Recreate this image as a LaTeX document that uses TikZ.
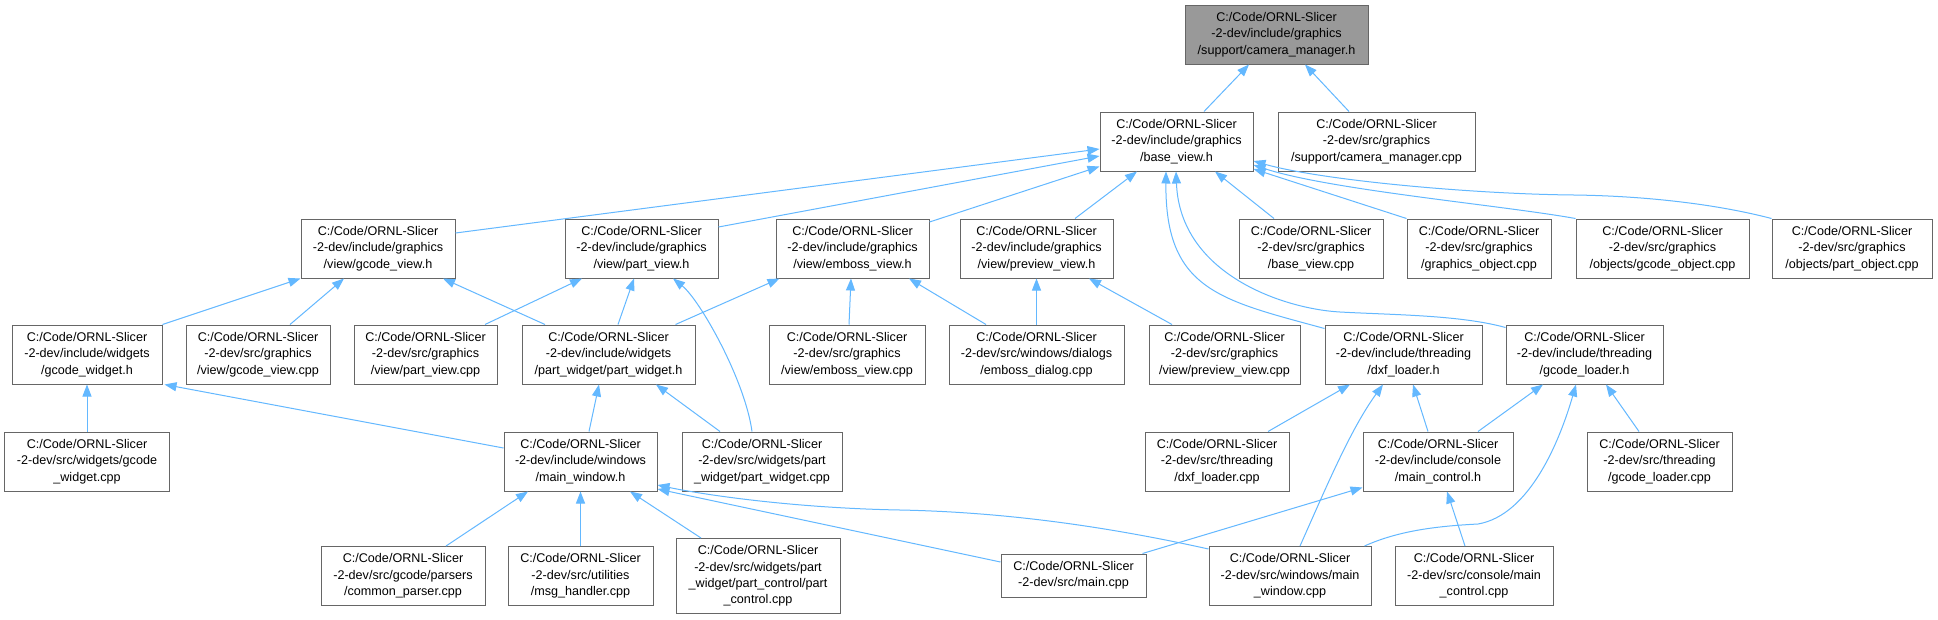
\documentclass[tikz,border=0pt]{standalone}
\usepackage{fontspec}
\setmainfont{Liberation Sans}
\usetikzlibrary{arrows.meta}
\definecolor{edgec}{HTML}{63B8FF}
\definecolor{boxc}{HTML}{666666}
\definecolor{rootfill}{HTML}{999999}
\tikzset{
  fbox/.style={draw=boxc, fill=white, line width=1pt, inner sep=0pt, align=center,
    font=\fontsize{12.6}{16.3}\selectfont, minimum height=59pt},
  rootbox/.style={fbox, fill=rootfill},
  dep/.style={draw=edgec, line width=1pt, -{Triangle[length=12pt,width=9pt]}},
}
\begin{document}
\begin{tikzpicture}[x=1pt,y=-1pt]
\useasboundingbox (0,0) rectangle (1938,619);
\fill[white] (0,0) rectangle (1938,619);
% row 0 / 1
\node[rootbox, minimum width=183pt] (root) at (1276.5,34.5) {C:/Code/ORNL-Slicer\\-2-dev/include/graphics\\/support/camera\_manager.h};
\node[fbox, minimum width=153pt] (bv) at (1176.5,141.5) {C:/Code/ORNL-Slicer\\-2-dev/include/graphics\\/base\_view.h};
\node[fbox, minimum width=197pt] (cmcpp) at (1376.5,141.5) {C:/Code/ORNL-Slicer\\-2-dev/src/graphics\\/support/camera\_manager.cpp};
% row 2
\node[fbox, minimum width=154pt] (gv) at (378,248.5) {C:/Code/ORNL-Slicer\\-2-dev/include/graphics\\/view/gcode\_view.h};
\node[fbox, minimum width=153pt] (pv) at (641.5,248.5) {C:/Code/ORNL-Slicer\\-2-dev/include/graphics\\/view/part\_view.h};
\node[fbox, minimum width=153pt] (ev) at (852.5,248.5) {C:/Code/ORNL-Slicer\\-2-dev/include/graphics\\/view/emboss\_view.h};
\node[fbox, minimum width=153pt] (prv) at (1036.5,248.5) {C:/Code/ORNL-Slicer\\-2-dev/include/graphics\\/view/preview\_view.h};
\node[fbox, minimum width=144pt] (bvcpp) at (1311,248.5) {C:/Code/ORNL-Slicer\\-2-dev/src/graphics\\/base\_view.cpp};
\node[fbox, minimum width=144pt] (gocpp) at (1479,248.5) {C:/Code/ORNL-Slicer\\-2-dev/src/graphics\\/graphics\_object.cpp};
\node[fbox, minimum width=173pt] (gcocpp) at (1662.5,248.5) {C:/Code/ORNL-Slicer\\-2-dev/src/graphics\\/objects/gcode\_object.cpp};
\node[fbox, minimum width=160pt] (pocpp) at (1852,248.5) {C:/Code/ORNL-Slicer\\-2-dev/src/graphics\\/objects/part\_object.cpp};
% row 3
\node[fbox, minimum width=150pt] (gw) at (87,354.5) {C:/Code/ORNL-Slicer\\-2-dev/include/widgets\\/gcode\_widget.h};
\node[fbox, minimum width=144pt] (gvcpp) at (258,354.5) {C:/Code/ORNL-Slicer\\-2-dev/src/graphics\\/view/gcode\_view.cpp};
\node[fbox, minimum width=143pt] (pvcpp) at (425.5,354.5) {C:/Code/ORNL-Slicer\\-2-dev/src/graphics\\/view/part\_view.cpp};
\node[fbox, minimum width=173pt] (pw) at (608.5,354.5) {C:/Code/ORNL-Slicer\\-2-dev/include/widgets\\/part\_widget/part\_widget.h};
\node[fbox, minimum width=156pt] (evcpp) at (847,354.5) {C:/Code/ORNL-Slicer\\-2-dev/src/graphics\\/view/emboss\_view.cpp};
\node[fbox, minimum width=175pt] (edcpp) at (1036.5,354.5) {C:/Code/ORNL-Slicer\\-2-dev/src/windows/dialogs\\/emboss\_dialog.cpp};
\node[fbox, minimum width=151pt] (prvcpp) at (1224.5,354.5) {C:/Code/ORNL-Slicer\\-2-dev/src/graphics\\/view/preview\_view.cpp};
\node[fbox, minimum width=157pt] (dxh) at (1403.5,354.5) {C:/Code/ORNL-Slicer\\-2-dev/include/threading\\/dxf\_loader.h};
\node[fbox, minimum width=157pt] (glh) at (1584.5,354.5) {C:/Code/ORNL-Slicer\\-2-dev/include/threading\\/gcode\_loader.h};
% row 4
\node[fbox, minimum width=165pt] (gwcpp) at (87,461.5) {C:/Code/ORNL-Slicer\\-2-dev/src/widgets/gcode\\\_widget.cpp};
\node[fbox, minimum width=153pt] (mwh) at (580.5,461.5) {C:/Code/ORNL-Slicer\\-2-dev/include/windows\\/main\_window.h};
\node[fbox, minimum width=160pt] (pwcpp) at (762,461.5) {C:/Code/ORNL-Slicer\\-2-dev/src/widgets/part\\\_widget/part\_widget.cpp};
\node[fbox, minimum width=144pt] (dxcpp) at (1217,461.5) {C:/Code/ORNL-Slicer\\-2-dev/src/threading\\/dxf\_loader.cpp};
\node[fbox, minimum width=150pt] (mch) at (1438,461.5) {C:/Code/ORNL-Slicer\\-2-dev/include/console\\/main\_control.h};
\node[fbox, minimum width=145pt] (glcpp) at (1659.5,461.5) {C:/Code/ORNL-Slicer\\-2-dev/src/threading\\/gcode\_loader.cpp};
% row 5
\node[fbox, minimum width=164pt] (cpcpp) at (403,576) {C:/Code/ORNL-Slicer\\-2-dev/src/gcode/parsers\\/common\_parser.cpp};
\node[fbox, minimum width=145pt] (mhcpp) at (580.5,576) {C:/Code/ORNL-Slicer\\-2-dev/src/utilities\\/msg\_handler.cpp};
\node[fbox, minimum width=164pt, minimum height=75pt] (pccpp) at (758,576) {C:/Code/ORNL-Slicer\\-2-dev/src/widgets/part\\\_widget/part\_control/part\\\_control.cpp};
\node[fbox, minimum width=145pt, minimum height=43pt] (maincpp) at (1073.5,575.5) {C:/Code/ORNL-Slicer\\-2-dev/src/main.cpp};
\node[fbox, minimum width=162pt] (mwcpp) at (1290,576) {C:/Code/ORNL-Slicer\\-2-dev/src/windows/main\\\_window.cpp};
\node[fbox, minimum width=158pt] (mccpp) at (1474,576) {C:/Code/ORNL-Slicer\\-2-dev/src/console/main\\\_control.cpp};
% edges
\draw[dep] ([xshift=27.5pt]bv.north) -- ([xshift=-27.5pt]root.south);
\draw[dep] ([xshift=-27.5pt]cmcpp.north) -- ([xshift=28.5pt]root.south);
\draw[dep] ([yshift=15.5pt]gv.east) -- ([yshift=-7.5pt]bv.west);
\draw[dep] ([yshift=21.5pt]pv.east) -- ([yshift=-14.5pt]bv.west);
\draw[dep] ([yshift=26.5pt]ev.east) -- ([yshift=-25pt]bv.west);
\draw[dep] ([xshift=38.5pt]prv.north) -- ([xshift=-39.5pt]bv.south);
\draw[dep] ([xshift=-37pt]bvcpp.north) -- ([xshift=38.5pt]bv.south);
\draw[dep] (gocpp.north west) -- ([yshift=-27.5pt]bv.east);
\draw[dep] (gcocpp.north west) .. controls (1500,205) and (1330,190) .. ([yshift=-23.5pt]bv.east);
\draw[dep] (pocpp.north west) .. controls (1720,205) and (1650,196) .. (1574,195) .. controls (1470,194) and (1320,180) .. ([yshift=-19.5pt]bv.east);
\draw[dep] ([yshift=-4pt]dxh.north west) .. controls (1220,300) and (1165,290) .. ([xshift=-10.5pt]bv.south);
\draw[dep] ([yshift=-3pt]glh.north west) .. controls (1460,315) and (1395,315) .. (1340,312) .. controls (1285,309) and (1180,275) .. ([xshift=-0.5pt]bv.south);
\draw[dep] (gw.north east) -- (gv.south west);
\draw[dep] ([xshift=32pt]gvcpp.north) -- ([xshift=-34pt]gv.south);
\draw[dep] ([xshift=-63.5pt]pw.north) -- ([xshift=65pt]gv.south);
\draw[dep] ([xshift=59.5pt]pvcpp.north) -- ([xshift=-59.5pt]pv.south);
\draw[dep] ([xshift=9.5pt]pw.north) -- ([xshift=-7.5pt]pv.south);
\draw[dep] ([xshift=-10pt]pwcpp.north) .. controls (745,380) and (700,300) .. ([xshift=31.5pt]pv.south);
\draw[dep] ([xshift=-20pt]pw.north east) -- ([xshift=4pt]ev.south west);
\draw[dep] ([xshift=2pt]evcpp.north) -- ([xshift=-1.5pt]ev.south);
\draw[dep] ([xshift=-50.5pt]edcpp.north) -- ([xshift=56.5pt]ev.south);
\draw[dep] (edcpp.north) -- (prv.south);
\draw[dep] ([xshift=-52.5pt]prvcpp.north) -- ([xshift=52.5pt]prv.south);
\draw[dep] (gwcpp.north) -- (gw.south);
\draw[dep] ([yshift=13.5pt]mwh.west) -- ([xshift=2pt]gw.south east);
\draw[dep] ([xshift=8.5pt]mwh.north) -- ([xshift=-9.5pt]pw.south);
\draw[dep] ([xshift=-42pt]pwcpp.north) -- ([xshift=47.5pt]pw.south);
\draw[dep] ([xshift=51pt]dxcpp.north) -- ([xshift=-53.5pt]dxh.south);
\draw[dep] ([xshift=-10pt]mch.north) -- ([xshift=9.5pt]dxh.south);
\draw[dep] ([xshift=10pt]mwcpp.north) .. controls (1325,490) and (1350,430) .. ([xshift=-20.5pt]dxh.south);
\draw[dep] ([xshift=40pt]mch.north) -- ([xshift=-41.5pt]glh.south);
\draw[dep] ([xshift=-7pt]mwcpp.north east) .. controls (1400,530) and (1440,526) .. (1478,524) .. controls (1530,515) and (1560,440) .. ([xshift=-8.5pt]glh.south);
\draw[dep] ([xshift=-20.5pt]glcpp.north) -- ([xshift=21.5pt]glh.south);
\draw[dep] ([xshift=-4pt]maincpp.north east) -- ([yshift=4pt]mch.south west);
\draw[dep] ([xshift=-9pt]mccpp.north) -- ([xshift=9pt]mch.south);
\draw[dep] ([xshift=43pt]cpcpp.north) -- ([xshift=-52.5pt]mwh.south);
\draw[dep] (mhcpp.north) -- (mwh.south);
\draw[dep] ([xshift=-57pt]pccpp.north) -- ([xshift=49.5pt]mwh.south);
\draw[dep] ([yshift=13.5pt]maincpp.west) -- ([yshift=-27.5pt]mwh.east);
\draw[dep] ([yshift=-3pt]mwcpp.north west) .. controls (1100,525) and (1000,512) .. (900,510) .. controls (790,508) and (700,494) .. ([yshift=-23.5pt]mwh.east);
\end{tikzpicture}
\end{document}
